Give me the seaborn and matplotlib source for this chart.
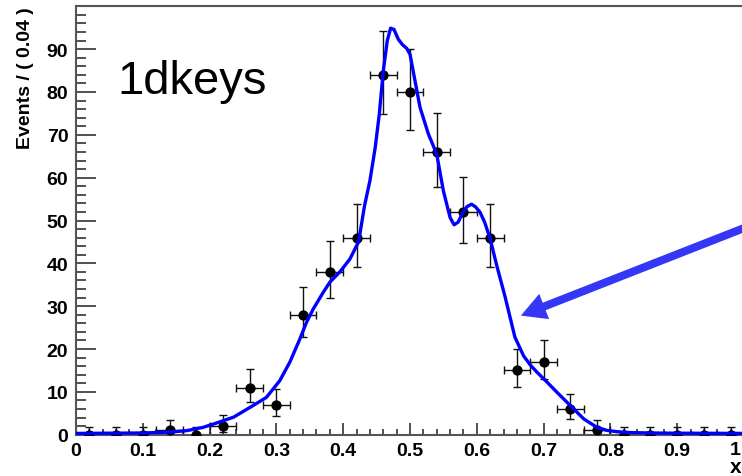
import numpy as np
import pandas as pd
import matplotlib
matplotlib.use("Agg")
import matplotlib.pyplot as plt
import seaborn as sns

# ---- data ----
bin_centers = [0.02, 0.06, 0.10, 0.14, 0.18, 0.22, 0.26, 0.30, 0.34, 0.38,
               0.42, 0.46, 0.50, 0.54, 0.58, 0.62, 0.66, 0.70, 0.74, 0.78,
               0.82, 0.86, 0.90, 0.94, 0.98]
counts = [0, 0, 0, 1, 0, 2, 11, 7, 28, 38,
          46, 84, 80, 66, 52, 46, 15, 17, 6, 1,
          0, 0, 0, 0, 0]
bin_half_width = 0.02

curve_x = [0.00, 0.05, 0.10, 0.14, 0.166, 0.19, 0.206, 0.236, 0.265, 0.285,
           0.305, 0.320, 0.335, 0.345, 0.355, 0.370, 0.380, 0.395, 0.410, 0.423,
           0.432, 0.440, 0.448, 0.454, 0.460, 0.466, 0.471, 0.476, 0.4825, 0.489,
           0.495, 0.500, 0.5075, 0.515, 0.5275, 0.540, 0.550, 0.560, 0.566, 0.572,
           0.578, 0.585, 0.592, 0.598, 0.605, 0.612, 0.620, 0.630, 0.642, 0.657,
           0.670, 0.680, 0.690, 0.705, 0.720, 0.740, 0.760, 0.780, 0.795, 0.810,
           0.83, 0.86, 0.90, 1.00]
curve_y = [0.3, 0.35, 0.4, 0.6, 0.95, 1.7, 2.5, 4.1, 6.8, 8.7,
           12.6, 16.9, 22.3, 26.2, 29.3, 33.2, 35.6, 38.0, 41.0, 45.0,
           53.5, 59.3, 67.1, 74.8, 84.9, 92.0, 94.9, 94.6, 92.3, 91.0,
           90.2, 88.8, 82.6, 76.4, 70.2, 65.5, 56.9, 50.7, 49.0, 49.6,
           51.5, 53.2, 53.8, 53.2, 51.9, 49.5, 45.7, 39.4, 32.4, 22.8,
           18.4, 16.3, 14.6, 12.3, 9.9, 6.8, 3.7, 1.7, 1.0, 0.7,
           0.5, 0.4, 0.35, 0.3]

xtick_vals = [0, 0.1, 0.2, 0.3, 0.4, 0.5, 0.6, 0.7, 0.8, 0.9, 1.0]
xtick_labels = ["0", "0.1", "0.2", "0.3", "0.4", "0.5", "0.6", "0.7", "0.8", "0.9", "1"]
ytick_vals = [0, 10, 20, 30, 40, 50, 60, 70, 80, 90]
ytick_labels = ["0", "10", "20", "30", "40", "50", "60", "70", "80", "90"]

# ---- Poisson (Gehrels approx.) error bars derived from counts ----
n = np.array(counts, dtype=float)
err_up = np.sqrt(n + 0.75) + 1.0
err_lo = np.zeros_like(n)
pos = n > 0
err_lo[pos] = n[pos] - n[pos] * (1 - 1 / (9 * n[pos]) - 1 / (3 * np.sqrt(n[pos]))) ** 3

hist_df = pd.DataFrame({"x": bin_centers, "events": counts})
curve_df = pd.DataFrame({"x": curve_x, "y": curve_y})

sns.set_theme(style="ticks")
plt.rcParams['font.family'] = ['Liberation Sans', 'DejaVu Sans']
plt.rcParams['text.color'] = 'black'
plt.rcParams['axes.labelcolor'] = 'black'
plt.rcParams['xtick.labelcolor'] = 'black'
plt.rcParams['ytick.labelcolor'] = 'black'

fig = plt.figure(figsize=(7.42, 4.77), dpi=100)
ax = fig.add_axes([76 / 742, 41.3 / 477, 668 / 742, 428.4 / 477])

ax.errorbar(hist_df["x"], hist_df["events"], xerr=bin_half_width,
            yerr=[err_lo, err_up], fmt='none', ecolor='#111111',
            elinewidth=1.0, capsize=2.8, capthick=1.0, zorder=2)
sns.scatterplot(data=hist_df, x="x", y="events", ax=ax, color='black',
                s=55, edgecolor='black', linewidth=0, zorder=3)
sns.lineplot(data=curve_df, x="x", y="y", ax=ax, color='#0000ff',
             linewidth=2.4, zorder=4, sort=True)

ax.set_xlim(0, 1)
ax.set_ylim(0, 100)

# last x tick label ("1") sits at the figure edge: draw it shifted just inside
ax.set_xticks(xtick_vals)
ax.set_xticklabels(xtick_labels[:-1] + [""], fontweight='bold', fontsize=14,
                   color='black')
fig.text(741 / 742, (477 - 442.5) / 477, xtick_labels[-1], fontweight='bold',
         fontsize=14, ha='right', va='top', color='black')
ax.set_yticks(ytick_vals)
ax.set_yticklabels(ytick_labels, fontweight='bold', fontsize=14, color='black')
ax.set_xticks(np.arange(0, 1.0001, 0.02), minor=True)
ax.set_yticks(np.arange(0, 100.001, 2), minor=True)

ax.tick_params(axis='x', which='major', direction='in', length=8.6, width=1.1,
               color='#222222', pad=5, top=False)
ax.tick_params(axis='x', which='minor', direction='in', length=4.3, width=1.1,
               color='#222222', top=False)
ax.tick_params(axis='y', which='major', direction='in', length=14.4, width=1.1,
               color='#222222', pad=5.5, right=False)
ax.tick_params(axis='y', which='minor', direction='in', length=7.2, width=1.1,
               color='#222222', right=False)

for s in ax.spines.values():
    s.set_color('#555555')
    s.set_linewidth(1.5)

ax.set_xlabel("")
ax.set_ylabel("Events / ( 0.04 )", fontweight='bold', fontsize=14, loc='top',
              labelpad=9, color='black')

fig.text(741 / 742, 0.0, "x", fontweight='bold', fontsize=15,
         ha='right', va='bottom', color='black')

ax.text(0.062, 79.7, "1dkeys", fontsize=34, ha='left', va='baseline',
        color='black')

ax.annotate("", xy=(0.666, 27.8), xytext=(1.06, 51.9),
            arrowprops=dict(arrowstyle="simple,head_length=18,head_width=19.5,tail_width=5.8",
                            mutation_scale=1, color='#3636f6', lw=0,
                            shrinkA=0, shrinkB=0),
            annotation_clip=False, zorder=5)

fig.savefig("out.png", dpi=100)
